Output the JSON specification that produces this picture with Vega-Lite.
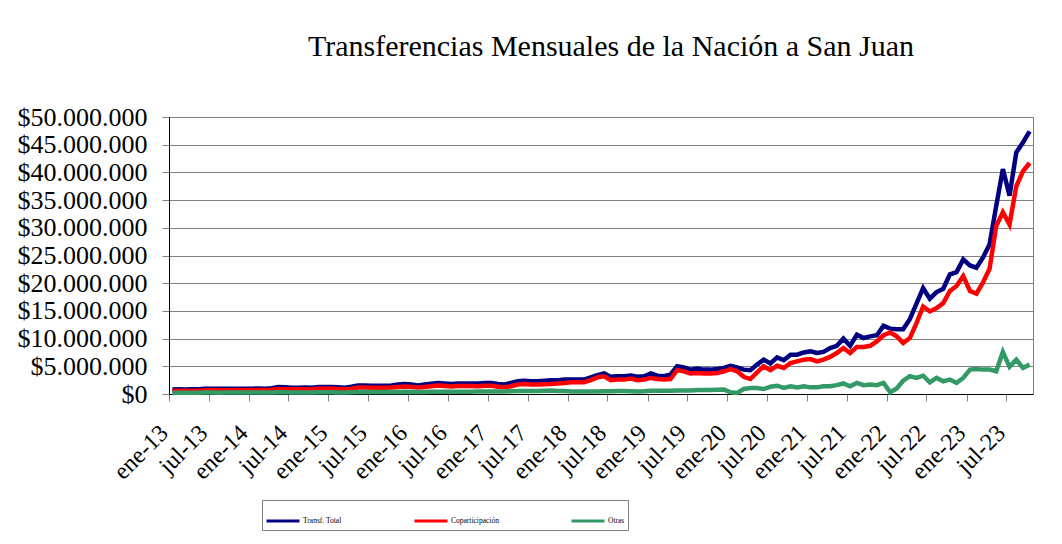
{
  "$schema": "https://vega.github.io/schema/vega-lite/v6.json",
  "width": 864,
  "height": 277,
  "autosize": {"type": "none"},
  "padding": {"left": 169, "top": 117, "right": 29, "bottom": 150},
  "background": "white",
  "title": {
    "text": "Transferencias Mensuales de la Nación a San Juan",
    "font": "Liberation Serif",
    "fontSize": 30,
    "fontWeight": "normal",
    "color": "black",
    "anchor": "middle",
    "dx": 10,
    "baseline": "alphabetic",
    "offset": 18
  },
  "data": {
    "values": [
      {"mes": "2013-01", "total": 800000, "coparticipacion": 550000, "otras": 200000},
      {"mes": "2013-02", "total": 850000, "coparticipacion": 600000, "otras": 220000},
      {"mes": "2013-03", "total": 830000, "coparticipacion": 580000, "otras": 220000},
      {"mes": "2013-04", "total": 850000, "coparticipacion": 600000, "otras": 220000},
      {"mes": "2013-05", "total": 850000, "coparticipacion": 600000, "otras": 230000},
      {"mes": "2013-06", "total": 950000, "coparticipacion": 680000, "otras": 250000},
      {"mes": "2013-07", "total": 950000, "coparticipacion": 680000, "otras": 250000},
      {"mes": "2013-08", "total": 930000, "coparticipacion": 670000, "otras": 240000},
      {"mes": "2013-09", "total": 950000, "coparticipacion": 680000, "otras": 250000},
      {"mes": "2013-10", "total": 950000, "coparticipacion": 680000, "otras": 250000},
      {"mes": "2013-11", "total": 970000, "coparticipacion": 700000, "otras": 250000},
      {"mes": "2013-12", "total": 950000, "coparticipacion": 680000, "otras": 250000},
      {"mes": "2014-01", "total": 970000, "coparticipacion": 700000, "otras": 250000},
      {"mes": "2014-02", "total": 980000, "coparticipacion": 710000, "otras": 250000},
      {"mes": "2014-03", "total": 970000, "coparticipacion": 700000, "otras": 250000},
      {"mes": "2014-04", "total": 1050000, "coparticipacion": 770000, "otras": 260000},
      {"mes": "2014-05", "total": 1250000, "coparticipacion": 920000, "otras": 300000},
      {"mes": "2014-06", "total": 1200000, "coparticipacion": 880000, "otras": 300000},
      {"mes": "2014-07", "total": 1150000, "coparticipacion": 850000, "otras": 280000},
      {"mes": "2014-08", "total": 1150000, "coparticipacion": 850000, "otras": 280000},
      {"mes": "2014-09", "total": 1170000, "coparticipacion": 860000, "otras": 290000},
      {"mes": "2014-10", "total": 1150000, "coparticipacion": 850000, "otras": 280000},
      {"mes": "2014-11", "total": 1250000, "coparticipacion": 930000, "otras": 300000},
      {"mes": "2014-12", "total": 1250000, "coparticipacion": 930000, "otras": 300000},
      {"mes": "2015-01", "total": 1250000, "coparticipacion": 930000, "otras": 300000},
      {"mes": "2015-02", "total": 1200000, "coparticipacion": 900000, "otras": 290000},
      {"mes": "2015-03", "total": 1150000, "coparticipacion": 860000, "otras": 280000},
      {"mes": "2015-04", "total": 1300000, "coparticipacion": 970000, "otras": 310000},
      {"mes": "2015-05", "total": 1550000, "coparticipacion": 1170000, "otras": 350000},
      {"mes": "2015-06", "total": 1550000, "coparticipacion": 1170000, "otras": 350000},
      {"mes": "2015-07", "total": 1500000, "coparticipacion": 1130000, "otras": 340000},
      {"mes": "2015-08", "total": 1500000, "coparticipacion": 1130000, "otras": 340000},
      {"mes": "2015-09", "total": 1500000, "coparticipacion": 1130000, "otras": 340000},
      {"mes": "2015-10", "total": 1550000, "coparticipacion": 1170000, "otras": 350000},
      {"mes": "2015-11", "total": 1700000, "coparticipacion": 1280000, "otras": 380000},
      {"mes": "2015-12", "total": 1800000, "coparticipacion": 1360000, "otras": 400000},
      {"mes": "2016-01", "total": 1700000, "coparticipacion": 1280000, "otras": 380000},
      {"mes": "2016-02", "total": 1550000, "coparticipacion": 1170000, "otras": 350000},
      {"mes": "2016-03", "total": 1700000, "coparticipacion": 1280000, "otras": 380000},
      {"mes": "2016-04", "total": 1850000, "coparticipacion": 1400000, "otras": 400000},
      {"mes": "2016-05", "total": 2000000, "coparticipacion": 1520000, "otras": 420000},
      {"mes": "2016-06", "total": 1900000, "coparticipacion": 1440000, "otras": 420000},
      {"mes": "2016-07", "total": 1800000, "coparticipacion": 1360000, "otras": 400000},
      {"mes": "2016-08", "total": 1900000, "coparticipacion": 1440000, "otras": 420000},
      {"mes": "2016-09", "total": 1900000, "coparticipacion": 1440000, "otras": 420000},
      {"mes": "2016-10", "total": 1900000, "coparticipacion": 1440000, "otras": 420000},
      {"mes": "2016-11", "total": 1900000, "coparticipacion": 1400000, "otras": 450000},
      {"mes": "2016-12", "total": 2000000, "coparticipacion": 1500000, "otras": 450000},
      {"mes": "2017-01", "total": 2000000, "coparticipacion": 1500000, "otras": 450000},
      {"mes": "2017-02", "total": 1800000, "coparticipacion": 1300000, "otras": 450000},
      {"mes": "2017-03", "total": 1700000, "coparticipacion": 1200000, "otras": 450000},
      {"mes": "2017-04", "total": 2000000, "coparticipacion": 1400000, "otras": 500000},
      {"mes": "2017-05", "total": 2300000, "coparticipacion": 1700000, "otras": 550000},
      {"mes": "2017-06", "total": 2400000, "coparticipacion": 1800000, "otras": 550000},
      {"mes": "2017-07", "total": 2300000, "coparticipacion": 1700000, "otras": 550000},
      {"mes": "2017-08", "total": 2300000, "coparticipacion": 1700000, "otras": 550000},
      {"mes": "2017-09", "total": 2400000, "coparticipacion": 1750000, "otras": 600000},
      {"mes": "2017-10", "total": 2500000, "coparticipacion": 1800000, "otras": 620000},
      {"mes": "2017-11", "total": 2500000, "coparticipacion": 1900000, "otras": 550000},
      {"mes": "2017-12", "total": 2600000, "coparticipacion": 2000000, "otras": 550000},
      {"mes": "2018-01", "total": 2600000, "coparticipacion": 2100000, "otras": 450000},
      {"mes": "2018-02", "total": 2600000, "coparticipacion": 2100000, "otras": 450000},
      {"mes": "2018-03", "total": 2600000, "coparticipacion": 2100000, "otras": 450000},
      {"mes": "2018-04", "total": 3000000, "coparticipacion": 2500000, "otras": 450000},
      {"mes": "2018-05", "total": 3400000, "coparticipacion": 3000000, "otras": 450000},
      {"mes": "2018-06", "total": 3700000, "coparticipacion": 3200000, "otras": 500000},
      {"mes": "2018-07", "total": 3100000, "coparticipacion": 2500000, "otras": 500000},
      {"mes": "2018-08", "total": 3200000, "coparticipacion": 2600000, "otras": 550000},
      {"mes": "2018-09", "total": 3200000, "coparticipacion": 2600000, "otras": 550000},
      {"mes": "2018-10", "total": 3350000, "coparticipacion": 2800000, "otras": 500000},
      {"mes": "2018-11", "total": 3100000, "coparticipacion": 2500000, "otras": 450000},
      {"mes": "2018-12", "total": 3200000, "coparticipacion": 2600000, "otras": 500000},
      {"mes": "2019-01", "total": 3700000, "coparticipacion": 2900000, "otras": 600000},
      {"mes": "2019-02", "total": 3300000, "coparticipacion": 2700000, "otras": 600000},
      {"mes": "2019-03", "total": 3200000, "coparticipacion": 2600000, "otras": 600000},
      {"mes": "2019-04", "total": 3500000, "coparticipacion": 2700000, "otras": 600000},
      {"mes": "2019-05", "total": 5000000, "coparticipacion": 4300000, "otras": 650000},
      {"mes": "2019-06", "total": 4800000, "coparticipacion": 4100000, "otras": 650000},
      {"mes": "2019-07", "total": 4400000, "coparticipacion": 3700000, "otras": 650000},
      {"mes": "2019-08", "total": 4600000, "coparticipacion": 3800000, "otras": 700000},
      {"mes": "2019-09", "total": 4400000, "coparticipacion": 3700000, "otras": 700000},
      {"mes": "2019-10", "total": 4400000, "coparticipacion": 3700000, "otras": 700000},
      {"mes": "2019-11", "total": 4500000, "coparticipacion": 3800000, "otras": 750000},
      {"mes": "2019-12", "total": 4700000, "coparticipacion": 4100000, "otras": 800000},
      {"mes": "2020-01", "total": 5100000, "coparticipacion": 4500000, "otras": 300000},
      {"mes": "2020-02", "total": 4800000, "coparticipacion": 4100000, "otras": 200000},
      {"mes": "2020-03", "total": 4400000, "coparticipacion": 3100000, "otras": 900000},
      {"mes": "2020-04", "total": 4300000, "coparticipacion": 2700000, "otras": 1100000},
      {"mes": "2020-05", "total": 5300000, "coparticipacion": 3900000, "otras": 1100000},
      {"mes": "2020-06", "total": 6200000, "coparticipacion": 5000000, "otras": 900000},
      {"mes": "2020-07", "total": 5500000, "coparticipacion": 4300000, "otras": 1300000},
      {"mes": "2020-08", "total": 6600000, "coparticipacion": 5100000, "otras": 1500000},
      {"mes": "2020-09", "total": 6100000, "coparticipacion": 4700000, "otras": 1100000},
      {"mes": "2020-10", "total": 7100000, "coparticipacion": 5600000, "otras": 1400000},
      {"mes": "2020-11", "total": 7100000, "coparticipacion": 5900000, "otras": 1200000},
      {"mes": "2020-12", "total": 7500000, "coparticipacion": 6200000, "otras": 1400000},
      {"mes": "2021-01", "total": 7700000, "coparticipacion": 6300000, "otras": 1200000},
      {"mes": "2021-02", "total": 7400000, "coparticipacion": 5900000, "otras": 1200000},
      {"mes": "2021-03", "total": 7600000, "coparticipacion": 6200000, "otras": 1400000},
      {"mes": "2021-04", "total": 8300000, "coparticipacion": 6700000, "otras": 1400000},
      {"mes": "2021-05", "total": 8700000, "coparticipacion": 7400000, "otras": 1600000},
      {"mes": "2021-06", "total": 10000000, "coparticipacion": 8300000, "otras": 1900000},
      {"mes": "2021-07", "total": 8700000, "coparticipacion": 7400000, "otras": 1400000},
      {"mes": "2021-08", "total": 10700000, "coparticipacion": 8500000, "otras": 2000000},
      {"mes": "2021-09", "total": 10100000, "coparticipacion": 8500000, "otras": 1600000},
      {"mes": "2021-10", "total": 10400000, "coparticipacion": 8700000, "otras": 1700000},
      {"mes": "2021-11", "total": 10600000, "coparticipacion": 9500000, "otras": 1600000},
      {"mes": "2021-12", "total": 12300000, "coparticipacion": 10600000, "otras": 2000000},
      {"mes": "2022-01", "total": 11800000, "coparticipacion": 11100000, "otras": 300000},
      {"mes": "2022-02", "total": 11700000, "coparticipacion": 10400000, "otras": 1000000},
      {"mes": "2022-03", "total": 11700000, "coparticipacion": 9200000, "otras": 2400000},
      {"mes": "2022-04", "total": 13500000, "coparticipacion": 10100000, "otras": 3200000},
      {"mes": "2022-05", "total": 16300000, "coparticipacion": 12800000, "otras": 2900000},
      {"mes": "2022-06", "total": 19100000, "coparticipacion": 15800000, "otras": 3300000},
      {"mes": "2022-07", "total": 17200000, "coparticipacion": 14900000, "otras": 2100000},
      {"mes": "2022-08", "total": 18400000, "coparticipacion": 15500000, "otras": 2900000},
      {"mes": "2022-09", "total": 19000000, "coparticipacion": 16400000, "otras": 2300000},
      {"mes": "2022-10", "total": 21600000, "coparticipacion": 18600000, "otras": 2600000},
      {"mes": "2022-11", "total": 22000000, "coparticipacion": 19500000, "otras": 2000000},
      {"mes": "2022-12", "total": 24300000, "coparticipacion": 21300000, "otras": 2900000},
      {"mes": "2023-01", "total": 23200000, "coparticipacion": 18600000, "otras": 4400000},
      {"mes": "2023-02", "total": 22800000, "coparticipacion": 18100000, "otras": 4500000},
      {"mes": "2023-03", "total": 24600000, "coparticipacion": 20100000, "otras": 4400000},
      {"mes": "2023-04", "total": 27000000, "coparticipacion": 22600000, "otras": 4400000},
      {"mes": "2023-05", "total": 33900000, "coparticipacion": 30300000, "otras": 4100000},
      {"mes": "2023-06", "total": 40600000, "coparticipacion": 32800000, "otras": 7600000},
      {"mes": "2023-07", "total": 35800000, "coparticipacion": 30600000, "otras": 4900000},
      {"mes": "2023-08", "total": 43600000, "coparticipacion": 37500000, "otras": 6200000},
      {"mes": "2023-09", "total": 45400000, "coparticipacion": 40200000, "otras": 4700000},
      {"mes": "2023-10", "total": 47400000, "coparticipacion": 41700000, "otras": 5300000}
    ]
  },
  "transform": [
    {"fold": ["total", "coparticipacion", "otras"], "as": ["serie", "valor"]}
  ],
  "mark": {"type": "line", "strokeWidth": 4.5, "interpolate": "linear"},
  "encoding": {
    "x": {
      "field": "mes",
      "timeUnit": "utcyearmonth",
      "type": "temporal",
      "bandPosition": 0.5,
      "scale": {
        "type": "utc",
        "nice": false,
        "domain": [
          {"year": 2013, "month": 1, "date": 1, "utc": true},
          {"year": 2023, "month": 11, "date": 1, "utc": true}
        ]
      },
      "axis": {
        "title": null,
        "grid": false,
        "tickCount": {"interval": "month", "step": 6},
        "labelExpr": "(utcmonth(datum.value) < 6 ? 'ene' : 'jul') + '-' + utcFormat(datum.value, '%y')",
        "labelAngle": -45,
        "labelAlign": "right",
        "labelBaseline": "alphabetic",
        "labelFont": "Liberation Serif",
        "labelFontSize": 24,
        "labelColor": "black",
        "labelPadding": 33,
        "labelOverlap": false,
        "labelFlush": false,
        "labelBound": false,
        "tickSize": 7,
        "tickColor": "#808080",
        "domainColor": "black"
      }
    },
    "y": {
      "field": "valor",
      "type": "quantitative",
      "scale": {"domain": [0, 50000000], "nice": false},
      "axis": {
        "title": null,
        "values": [0, 5000000, 10000000, 15000000, 20000000, 25000000, 30000000, 35000000, 40000000, 45000000, 50000000],
        "format": "$,.0f",
        "labelFont": "Liberation Serif",
        "labelFontSize": 26,
        "labelColor": "black",
        "labelPadding": 15,
        "tickSize": 7,
        "tickColor": "#808080",
        "domainColor": "black",
        "grid": true,
        "gridColor": "#808080"
      }
    },
    "color": {
      "field": "serie",
      "type": "nominal",
      "scale": {
        "domain": ["total", "coparticipacion", "otras"],
        "range": ["#000080", "#FF0000", "#339966"]
      },
      "legend": {
        "title": null,
        "orient": "none",
        "legendX": 93,
        "legendY": 383,
        "direction": "horizontal",
        "symbolType": "stroke",
        "symbolSize": 1089,
        "symbolStrokeWidth": 3,
        "labelFont": "Liberation Serif",
        "labelFontSize": 7.5,
        "labelColor": "black",
        "labelOffset": 2,
        "columnPadding": 66,
        "padding": 3,
        "strokeColor": "#808080",
        "fillColor": "white",
        "labelExpr": "datum.label == 'total' ? 'Transf. Total' : datum.label == 'coparticipacion' ? 'Coparticipación' : 'Otras'"
      }
    }
  },
  "config": {
    "locale": {
      "number": {"decimal": ",", "thousands": ".", "grouping": [3], "currency": ["$", ""]}
    },
    "view": {"stroke": "#808080"}
  }
}
